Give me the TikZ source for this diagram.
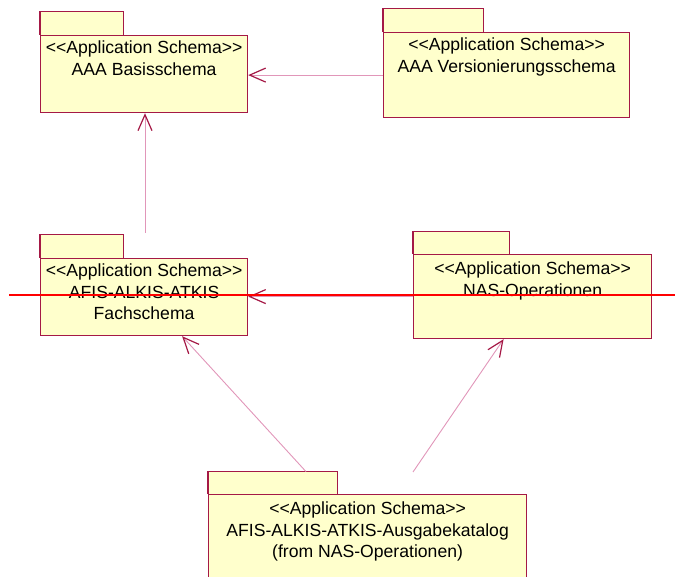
\documentclass[tikz,border=0pt]{standalone}
\usepackage{fontspec}
\setmainfont{Liberation Sans}
\usetikzlibrary{arrows.meta, positioning}
\definecolor{pkgfill}{RGB}{255,255,204}
\definecolor{pkgline}{RGB}{165,25,70}
\definecolor{deppink}{RGB}{225,150,185}
\newcommand{\appschema}{<{}<Application Schema>{}>}

\begin{document}
\begin{tikzpicture}[
      x=1pt, y=-1pt,
      pkg/.style={draw=pkgline, fill=pkgfill, line width=1.2pt, inner sep=0pt,
                  anchor=north west},
      pkgtab/.style={fill=pkgfill, inner sep=0pt, anchor=south west,
                     minimum height=23pt},
      tabedge/.style={draw=pkgline, line width=1.2pt},
      lbl/.style={align=center, inner sep=0pt,
                  font=\fontsize{17.6}{21.5}\selectfont},
      dep/.style={draw=deppink, line width=0.9pt,
                  -{Straight Barb[length=16pt, width=14pt, color=pkgline, line width=1.2pt]}},
      redline/.style={draw=red, line width=2pt}
  ]
    \useasboundingbox (0,0) rectangle (675,577);
    \clip (0,0) rectangle (675,577);

    % packages
    \node[pkg, minimum width=207pt, minimum height=77pt] (basis) at (40,35) {};
    \node[pkgtab, minimum width=83pt] (basistab) at (basis.north west) {};
    \node[lbl, below=6pt of basis.north] (basistxt)
      {\appschema\\AAA Basisschema};

    \node[pkg, minimum width=246pt, minimum height=85pt] (vers) at (383,32) {};
    \node[pkgtab, minimum width=100pt] (verstab) at (vers.north west) {};
    \node[lbl, below=6pt of vers.north] (verstxt)
      {\appschema\\AAA Versionierungsschema};

    \node[pkg, minimum width=207pt, minimum height=77pt] (fach) at (40,258) {};
    \node[pkgtab, minimum width=83pt] (fachtab) at (fach.north west) {};
    \node[lbl, below=6pt of fach.north] (fachtxt)
      {\appschema\\AFIS-ALKIS-ATKIS\\Fachschema};

    \node[pkg, minimum width=238pt, minimum height=84pt] (nas) at (413,254) {};
    \node[pkgtab, minimum width=96pt, minimum height=22pt] (nastab) at (nas.north west) {};
    \node[lbl, below=8pt of nas.north] (nastxt)
      {\appschema\\NAS-Operationen};

    \node[pkg, minimum width=318pt, minimum height=106pt] (ausg) at (208,494) {};
    \node[pkgtab, minimum width=129pt, minimum height=22pt] (ausgtab) at (ausg.north west) {};
    \node[lbl, below=8pt of ausg.north] (ausgtxt)
      {\appschema\\AFIS-ALKIS-ATKIS-Ausgabekatalog\\(from NAS-Operationen)};

    \foreach \t in {basistab, verstab, fachtab, nastab, ausgtab}
      \draw[tabedge] (\t.south west) |- (\t.north east) -- (\t.south east);

    % dependencies
    \coordinate (fachtop) at ([shift={(105,-25)}]fach.north west);
    \coordinate (ausgleft) at ([xshift=98pt]ausgtab.north west);
    \coordinate (ausgright) at ([shift={(205,-22)}]ausg.north west);

    \draw[dep] (fachtop) -- (fachtop |- basis.south);
    \draw[dep] (vers.west) -- (vers.west -| basis.east);
    \draw[dep] (nas.west) -- (nas.west -| fach.east);
    \draw[dep] (ausgleft) -- ([xshift=38pt]fach.south);
    \draw[dep] (ausgright) -- ([xshift=-29pt]nas.south);

    \draw[redline] (9,295) -- (675,295);
  \end{tikzpicture}
\end{document}
